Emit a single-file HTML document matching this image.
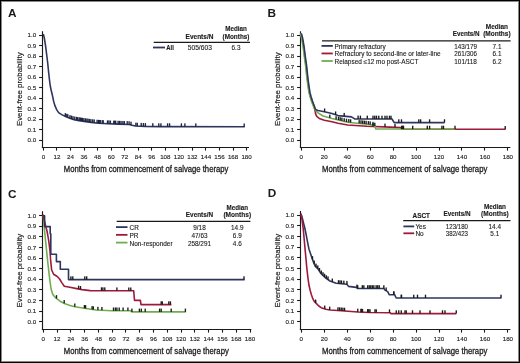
<!DOCTYPE html>
<html><head><meta charset="utf-8"><style>
html,body{margin:0;padding:0;background:#fff;}
svg{display:block;will-change:transform;font-family:"Liberation Sans",sans-serif;}
</style></head><body>
<svg width="520" height="363" viewBox="0 0 520 363">
<rect x="0" y="0" width="520" height="363" fill="#fff"/>
<text x="8.10" y="16.90" font-size="11.8" font-weight="bold" textLength="8.52" lengthAdjust="spacingAndGlyphs" fill="#1a1a1a">A</text>
<line x1="42.50" y1="31.20" x2="42.50" y2="148.10" stroke="#1a1a1a" stroke-width="1.15"/>
<line x1="39.10" y1="35.50" x2="42.50" y2="35.50" stroke="#1a1a1a" stroke-width="1.1"/>
<text x="27.58" y="37.21" font-size="6.2" textLength="8.62" lengthAdjust="spacingAndGlyphs" fill="#1a1a1a" stroke="#1a1a1a" stroke-width="0.12">1.0</text>
<line x1="39.10" y1="45.50" x2="42.50" y2="45.50" stroke="#1a1a1a" stroke-width="1.1"/>
<text x="27.58" y="47.72" font-size="6.2" textLength="8.62" lengthAdjust="spacingAndGlyphs" fill="#1a1a1a" stroke="#1a1a1a" stroke-width="0.12">0.9</text>
<line x1="39.10" y1="56.50" x2="42.50" y2="56.50" stroke="#1a1a1a" stroke-width="1.1"/>
<text x="27.58" y="58.24" font-size="6.2" textLength="8.62" lengthAdjust="spacingAndGlyphs" fill="#1a1a1a" stroke="#1a1a1a" stroke-width="0.12">0.8</text>
<line x1="39.10" y1="66.50" x2="42.50" y2="66.50" stroke="#1a1a1a" stroke-width="1.1"/>
<text x="27.58" y="68.75" font-size="6.2" textLength="8.62" lengthAdjust="spacingAndGlyphs" fill="#1a1a1a" stroke="#1a1a1a" stroke-width="0.12">0.7</text>
<line x1="39.10" y1="77.50" x2="42.50" y2="77.50" stroke="#1a1a1a" stroke-width="1.1"/>
<text x="27.58" y="79.27" font-size="6.2" textLength="8.62" lengthAdjust="spacingAndGlyphs" fill="#1a1a1a" stroke="#1a1a1a" stroke-width="0.12">0.6</text>
<line x1="39.10" y1="87.50" x2="42.50" y2="87.50" stroke="#1a1a1a" stroke-width="1.1"/>
<text x="27.58" y="89.78" font-size="6.2" textLength="8.62" lengthAdjust="spacingAndGlyphs" fill="#1a1a1a" stroke="#1a1a1a" stroke-width="0.12">0.5</text>
<line x1="39.10" y1="98.50" x2="42.50" y2="98.50" stroke="#1a1a1a" stroke-width="1.1"/>
<text x="27.58" y="100.29" font-size="6.2" textLength="8.62" lengthAdjust="spacingAndGlyphs" fill="#1a1a1a" stroke="#1a1a1a" stroke-width="0.12">0.4</text>
<line x1="39.10" y1="108.50" x2="42.50" y2="108.50" stroke="#1a1a1a" stroke-width="1.1"/>
<text x="27.58" y="110.81" font-size="6.2" textLength="8.62" lengthAdjust="spacingAndGlyphs" fill="#1a1a1a" stroke="#1a1a1a" stroke-width="0.12">0.3</text>
<line x1="39.10" y1="119.50" x2="42.50" y2="119.50" stroke="#1a1a1a" stroke-width="1.1"/>
<text x="27.58" y="121.32" font-size="6.2" textLength="8.62" lengthAdjust="spacingAndGlyphs" fill="#1a1a1a" stroke="#1a1a1a" stroke-width="0.12">0.2</text>
<line x1="39.10" y1="129.50" x2="42.50" y2="129.50" stroke="#1a1a1a" stroke-width="1.1"/>
<text x="27.58" y="131.84" font-size="6.2" textLength="8.62" lengthAdjust="spacingAndGlyphs" fill="#1a1a1a" stroke="#1a1a1a" stroke-width="0.12">0.1</text>
<line x1="39.10" y1="140.50" x2="42.50" y2="140.50" stroke="#1a1a1a" stroke-width="1.1"/>
<text x="27.58" y="142.35" font-size="6.2" textLength="8.62" lengthAdjust="spacingAndGlyphs" fill="#1a1a1a" stroke="#1a1a1a" stroke-width="0.12">0.0</text>
<line x1="41.90" y1="147.50" x2="249.00" y2="147.50" stroke="#1a1a1a" stroke-width="1.2"/>
<line x1="43.50" y1="147.50" x2="43.50" y2="150.60" stroke="#1a1a1a" stroke-width="1.1"/>
<text x="41.68" y="159.40" font-size="6.2" textLength="3.45" lengthAdjust="spacingAndGlyphs" fill="#1a1a1a" stroke="#1a1a1a" stroke-width="0.12">0</text>
<line x1="56.50" y1="147.50" x2="56.50" y2="150.60" stroke="#1a1a1a" stroke-width="1.1"/>
<text x="53.50" y="159.40" font-size="6.2" textLength="6.90" lengthAdjust="spacingAndGlyphs" fill="#1a1a1a" stroke="#1a1a1a" stroke-width="0.12">12</text>
<line x1="70.50" y1="147.50" x2="70.50" y2="150.60" stroke="#1a1a1a" stroke-width="1.1"/>
<text x="67.05" y="159.40" font-size="6.2" textLength="6.90" lengthAdjust="spacingAndGlyphs" fill="#1a1a1a" stroke="#1a1a1a" stroke-width="0.12">24</text>
<line x1="84.50" y1="147.50" x2="84.50" y2="150.60" stroke="#1a1a1a" stroke-width="1.1"/>
<text x="80.59" y="159.40" font-size="6.2" textLength="6.90" lengthAdjust="spacingAndGlyphs" fill="#1a1a1a" stroke="#1a1a1a" stroke-width="0.12">36</text>
<line x1="97.50" y1="147.50" x2="97.50" y2="150.60" stroke="#1a1a1a" stroke-width="1.1"/>
<text x="94.14" y="159.40" font-size="6.2" textLength="6.90" lengthAdjust="spacingAndGlyphs" fill="#1a1a1a" stroke="#1a1a1a" stroke-width="0.12">48</text>
<line x1="111.50" y1="147.50" x2="111.50" y2="150.60" stroke="#1a1a1a" stroke-width="1.1"/>
<text x="107.69" y="159.40" font-size="6.2" textLength="6.90" lengthAdjust="spacingAndGlyphs" fill="#1a1a1a" stroke="#1a1a1a" stroke-width="0.12">60</text>
<line x1="124.50" y1="147.50" x2="124.50" y2="150.60" stroke="#1a1a1a" stroke-width="1.1"/>
<text x="121.23" y="159.40" font-size="6.2" textLength="6.90" lengthAdjust="spacingAndGlyphs" fill="#1a1a1a" stroke="#1a1a1a" stroke-width="0.12">72</text>
<line x1="138.50" y1="147.50" x2="138.50" y2="150.60" stroke="#1a1a1a" stroke-width="1.1"/>
<text x="134.78" y="159.40" font-size="6.2" textLength="6.90" lengthAdjust="spacingAndGlyphs" fill="#1a1a1a" stroke="#1a1a1a" stroke-width="0.12">84</text>
<line x1="151.50" y1="147.50" x2="151.50" y2="150.60" stroke="#1a1a1a" stroke-width="1.1"/>
<text x="148.33" y="159.40" font-size="6.2" textLength="6.90" lengthAdjust="spacingAndGlyphs" fill="#1a1a1a" stroke="#1a1a1a" stroke-width="0.12">96</text>
<line x1="165.50" y1="147.50" x2="165.50" y2="150.60" stroke="#1a1a1a" stroke-width="1.1"/>
<text x="160.15" y="159.40" font-size="6.2" textLength="10.34" lengthAdjust="spacingAndGlyphs" fill="#1a1a1a" stroke="#1a1a1a" stroke-width="0.12">108</text>
<line x1="178.50" y1="147.50" x2="178.50" y2="150.60" stroke="#1a1a1a" stroke-width="1.1"/>
<text x="173.69" y="159.40" font-size="6.2" textLength="10.34" lengthAdjust="spacingAndGlyphs" fill="#1a1a1a" stroke="#1a1a1a" stroke-width="0.12">120</text>
<line x1="192.50" y1="147.50" x2="192.50" y2="150.60" stroke="#1a1a1a" stroke-width="1.1"/>
<text x="187.24" y="159.40" font-size="6.2" textLength="10.34" lengthAdjust="spacingAndGlyphs" fill="#1a1a1a" stroke="#1a1a1a" stroke-width="0.12">132</text>
<line x1="205.50" y1="147.50" x2="205.50" y2="150.60" stroke="#1a1a1a" stroke-width="1.1"/>
<text x="200.79" y="159.40" font-size="6.2" textLength="10.34" lengthAdjust="spacingAndGlyphs" fill="#1a1a1a" stroke="#1a1a1a" stroke-width="0.12">144</text>
<line x1="219.50" y1="147.50" x2="219.50" y2="150.60" stroke="#1a1a1a" stroke-width="1.1"/>
<text x="214.33" y="159.40" font-size="6.2" textLength="10.34" lengthAdjust="spacingAndGlyphs" fill="#1a1a1a" stroke="#1a1a1a" stroke-width="0.12">156</text>
<line x1="233.50" y1="147.50" x2="233.50" y2="150.60" stroke="#1a1a1a" stroke-width="1.1"/>
<text x="227.88" y="159.40" font-size="6.2" textLength="10.34" lengthAdjust="spacingAndGlyphs" fill="#1a1a1a" stroke="#1a1a1a" stroke-width="0.12">168</text>
<line x1="246.50" y1="147.50" x2="246.50" y2="150.60" stroke="#1a1a1a" stroke-width="1.1"/>
<text x="241.43" y="159.40" font-size="6.2" textLength="10.34" lengthAdjust="spacingAndGlyphs" fill="#1a1a1a" stroke="#1a1a1a" stroke-width="0.12">180</text>
<text x="-15.20" y="89.20" font-size="8.0" textLength="73.60" lengthAdjust="spacingAndGlyphs" fill="#1a1a1a" stroke="#1a1a1a" stroke-width="0.18" transform="rotate(-90 21.60 89.20)">Event-free probability</text>
<text x="63.80" y="171.80" font-size="9.3" textLength="164.60" lengthAdjust="spacingAndGlyphs" fill="#1a1a1a" stroke="#1a1a1a" stroke-width="0.3">Months from commencement of salvage therapy</text>
<text x="225.20" y="31.00" font-size="6.4" font-weight="bold" textLength="21.60" lengthAdjust="spacingAndGlyphs" fill="#1a1a1a" stroke="#1a1a1a" stroke-width="0.12">Median</text>
<text x="222.55" y="38.80" font-size="6.4" font-weight="bold" textLength="26.90" lengthAdjust="spacingAndGlyphs" fill="#1a1a1a" stroke="#1a1a1a" stroke-width="0.12">(Months)</text>
<text x="185.55" y="38.80" font-size="6.4" font-weight="bold" textLength="27.90" lengthAdjust="spacingAndGlyphs" fill="#1a1a1a" stroke="#1a1a1a" stroke-width="0.12">Events/N</text>
<line x1="153.70" y1="42.30" x2="250.00" y2="42.30" stroke="#1a1a1a" stroke-width="1.2"/>
<line x1="153.00" y1="47.50" x2="165.00" y2="47.50" stroke="#2e365e" stroke-width="1.8"/>
<text x="166.30" y="49.50" font-size="6.4" font-weight="bold" textLength="7.50" lengthAdjust="spacingAndGlyphs" fill="#1a1a1a" stroke="#1a1a1a" stroke-width="0.12">All</text>
<text x="187.75" y="49.60" font-size="6.4" textLength="24.10" lengthAdjust="spacingAndGlyphs" fill="#1a1a1a" stroke="#1a1a1a" stroke-width="0.1">505/603</text>
<text x="231.55" y="49.60" font-size="6.4" textLength="8.90" lengthAdjust="spacingAndGlyphs" fill="#1a1a1a" stroke="#1a1a1a" stroke-width="0.1">6.3</text>
<polyline points="43.30,34.00 44.30,38.00 45.50,45.40 46.60,54.00 47.70,63.00 48.50,71.00 49.30,78.50 50.20,85.50 51.10,90.00 52.40,95.30 53.70,101.50 55.00,105.90 56.80,109.90 58.60,112.60 61.70,114.60 66.10,116.80 70.50,118.60 74.00,119.70 79.00,120.60 84.00,121.40 91.00,122.40 98.40,123.20 108.00,123.70 118.00,124.10 129.00,124.50 132.00,125.20 135.40,126.00 145.00,126.40 160.00,126.60 244.80,126.80" fill="none" stroke="#2e365e" stroke-width="1.6" stroke-linejoin="round"/>
<rect x="64.62" y="113.10" width="1.35" height="3.3" fill="#1e2340"/>
<rect x="66.12" y="113.79" width="1.35" height="3.3" fill="#1e2340"/>
<rect x="67.12" y="114.20" width="1.35" height="3.3" fill="#1e2340"/>
<rect x="69.33" y="115.10" width="1.35" height="3.3" fill="#1e2340"/>
<rect x="70.83" y="115.61" width="1.35" height="3.3" fill="#1e2340"/>
<rect x="72.33" y="116.09" width="1.35" height="3.3" fill="#1e2340"/>
<rect x="74.12" y="116.54" width="1.35" height="3.3" fill="#1e2340"/>
<rect x="75.92" y="116.87" width="1.35" height="3.3" fill="#1e2340"/>
<rect x="77.03" y="117.07" width="1.35" height="3.3" fill="#1e2340"/>
<rect x="78.53" y="117.33" width="1.35" height="3.3" fill="#1e2340"/>
<rect x="79.62" y="117.51" width="1.35" height="3.3" fill="#1e2340"/>
<rect x="80.73" y="117.68" width="1.35" height="3.3" fill="#1e2340"/>
<rect x="81.83" y="117.86" width="1.35" height="3.3" fill="#1e2340"/>
<rect x="83.23" y="118.08" width="1.35" height="3.3" fill="#1e2340"/>
<rect x="84.73" y="118.30" width="1.35" height="3.3" fill="#1e2340"/>
<rect x="86.23" y="118.51" width="1.35" height="3.3" fill="#1e2340"/>
<rect x="87.33" y="118.67" width="1.35" height="3.3" fill="#1e2340"/>
<rect x="88.73" y="118.87" width="1.35" height="3.3" fill="#1e2340"/>
<rect x="90.23" y="119.09" width="1.35" height="3.3" fill="#1e2340"/>
<rect x="92.03" y="119.28" width="1.35" height="3.3" fill="#1e2340"/>
<rect x="93.53" y="119.45" width="1.35" height="3.3" fill="#1e2340"/>
<rect x="96.42" y="119.76" width="1.35" height="3.3" fill="#1e2340"/>
<rect x="97.73" y="119.90" width="1.35" height="3.3" fill="#1e2340"/>
<rect x="98.62" y="119.95" width="1.35" height="3.3" fill="#1e2340"/>
<rect x="99.62" y="120.00" width="1.35" height="3.3" fill="#1e2340"/>
<rect x="101.53" y="120.10" width="1.35" height="3.3" fill="#1e2340"/>
<rect x="102.53" y="120.15" width="1.35" height="3.3" fill="#1e2340"/>
<rect x="106.83" y="120.37" width="1.35" height="3.3" fill="#1e2340"/>
<rect x="108.23" y="120.44" width="1.35" height="3.3" fill="#1e2340"/>
<rect x="109.73" y="120.50" width="1.35" height="3.3" fill="#1e2340"/>
<rect x="113.12" y="120.63" width="1.35" height="3.3" fill="#1e2340"/>
<rect x="114.03" y="120.67" width="1.35" height="3.3" fill="#1e2340"/>
<rect x="115.03" y="120.71" width="1.35" height="3.3" fill="#1e2340"/>
<rect x="117.42" y="120.80" width="1.35" height="3.3" fill="#1e2340"/>
<rect x="118.83" y="120.85" width="1.35" height="3.3" fill="#1e2340"/>
<rect x="120.33" y="120.91" width="1.35" height="3.3" fill="#1e2340"/>
<rect x="122.23" y="120.98" width="1.35" height="3.3" fill="#1e2340"/>
<rect x="123.62" y="121.03" width="1.35" height="3.3" fill="#1e2340"/>
<rect x="126.53" y="121.13" width="1.35" height="3.3" fill="#1e2340"/>
<rect x="128.42" y="121.22" width="1.35" height="3.3" fill="#1e2340"/>
<rect x="130.32" y="121.67" width="1.35" height="3.3" fill="#1e2340"/>
<rect x="135.22" y="122.72" width="1.35" height="3.3" fill="#1e2340"/>
<rect x="136.62" y="122.78" width="1.35" height="3.3" fill="#1e2340"/>
<rect x="140.52" y="122.94" width="1.35" height="3.3" fill="#1e2340"/>
<rect x="142.72" y="123.03" width="1.35" height="3.3" fill="#1e2340"/>
<rect x="144.72" y="123.11" width="1.35" height="3.3" fill="#1e2340"/>
<rect x="152.12" y="123.20" width="1.35" height="3.3" fill="#1e2340"/>
<rect x="158.12" y="123.28" width="1.35" height="3.3" fill="#1e2340"/>
<rect x="160.22" y="123.30" width="1.35" height="3.3" fill="#1e2340"/>
<rect x="166.92" y="123.32" width="1.35" height="3.3" fill="#1e2340"/>
<rect x="168.92" y="123.32" width="1.35" height="3.3" fill="#1e2340"/>
<rect x="180.72" y="123.35" width="1.35" height="3.3" fill="#1e2340"/>
<rect x="184.22" y="123.36" width="1.35" height="3.3" fill="#1e2340"/>
<rect x="195.12" y="123.38" width="1.35" height="3.3" fill="#1e2340"/>
<rect x="243.52" y="123.50" width="1.35" height="3.3" fill="#1e2340"/>
<text x="267.60" y="16.80" font-size="11.8" font-weight="bold" textLength="8.52" lengthAdjust="spacingAndGlyphs" fill="#1a1a1a">B</text>
<line x1="300.50" y1="31.30" x2="300.50" y2="148.10" stroke="#1a1a1a" stroke-width="1.15"/>
<line x1="297.10" y1="35.50" x2="300.50" y2="35.50" stroke="#1a1a1a" stroke-width="1.1"/>
<text x="285.58" y="37.15" font-size="6.2" textLength="8.62" lengthAdjust="spacingAndGlyphs" fill="#1a1a1a" stroke="#1a1a1a" stroke-width="0.12">1.0</text>
<line x1="297.10" y1="45.50" x2="300.50" y2="45.50" stroke="#1a1a1a" stroke-width="1.1"/>
<text x="285.58" y="47.68" font-size="6.2" textLength="8.62" lengthAdjust="spacingAndGlyphs" fill="#1a1a1a" stroke="#1a1a1a" stroke-width="0.12">0.9</text>
<line x1="297.10" y1="56.50" x2="300.50" y2="56.50" stroke="#1a1a1a" stroke-width="1.1"/>
<text x="285.58" y="58.21" font-size="6.2" textLength="8.62" lengthAdjust="spacingAndGlyphs" fill="#1a1a1a" stroke="#1a1a1a" stroke-width="0.12">0.8</text>
<line x1="297.10" y1="66.50" x2="300.50" y2="66.50" stroke="#1a1a1a" stroke-width="1.1"/>
<text x="285.58" y="68.74" font-size="6.2" textLength="8.62" lengthAdjust="spacingAndGlyphs" fill="#1a1a1a" stroke="#1a1a1a" stroke-width="0.12">0.7</text>
<line x1="297.10" y1="77.50" x2="300.50" y2="77.50" stroke="#1a1a1a" stroke-width="1.1"/>
<text x="285.58" y="79.27" font-size="6.2" textLength="8.62" lengthAdjust="spacingAndGlyphs" fill="#1a1a1a" stroke="#1a1a1a" stroke-width="0.12">0.6</text>
<line x1="297.10" y1="87.50" x2="300.50" y2="87.50" stroke="#1a1a1a" stroke-width="1.1"/>
<text x="285.58" y="89.80" font-size="6.2" textLength="8.62" lengthAdjust="spacingAndGlyphs" fill="#1a1a1a" stroke="#1a1a1a" stroke-width="0.12">0.5</text>
<line x1="297.10" y1="98.50" x2="300.50" y2="98.50" stroke="#1a1a1a" stroke-width="1.1"/>
<text x="285.58" y="100.33" font-size="6.2" textLength="8.62" lengthAdjust="spacingAndGlyphs" fill="#1a1a1a" stroke="#1a1a1a" stroke-width="0.12">0.4</text>
<line x1="297.10" y1="108.50" x2="300.50" y2="108.50" stroke="#1a1a1a" stroke-width="1.1"/>
<text x="285.58" y="110.86" font-size="6.2" textLength="8.62" lengthAdjust="spacingAndGlyphs" fill="#1a1a1a" stroke="#1a1a1a" stroke-width="0.12">0.3</text>
<line x1="297.10" y1="119.50" x2="300.50" y2="119.50" stroke="#1a1a1a" stroke-width="1.1"/>
<text x="285.58" y="121.39" font-size="6.2" textLength="8.62" lengthAdjust="spacingAndGlyphs" fill="#1a1a1a" stroke="#1a1a1a" stroke-width="0.12">0.2</text>
<line x1="297.10" y1="129.50" x2="300.50" y2="129.50" stroke="#1a1a1a" stroke-width="1.1"/>
<text x="285.58" y="131.92" font-size="6.2" textLength="8.62" lengthAdjust="spacingAndGlyphs" fill="#1a1a1a" stroke="#1a1a1a" stroke-width="0.12">0.1</text>
<line x1="297.10" y1="140.50" x2="300.50" y2="140.50" stroke="#1a1a1a" stroke-width="1.1"/>
<text x="285.58" y="142.45" font-size="6.2" textLength="8.62" lengthAdjust="spacingAndGlyphs" fill="#1a1a1a" stroke="#1a1a1a" stroke-width="0.12">0.0</text>
<line x1="299.90" y1="147.50" x2="510.40" y2="147.50" stroke="#1a1a1a" stroke-width="1.2"/>
<line x1="301.50" y1="147.50" x2="301.50" y2="150.60" stroke="#1a1a1a" stroke-width="1.1"/>
<text x="299.58" y="159.40" font-size="6.2" textLength="3.45" lengthAdjust="spacingAndGlyphs" fill="#1a1a1a" stroke="#1a1a1a" stroke-width="0.12">0</text>
<line x1="324.50" y1="147.50" x2="324.50" y2="150.60" stroke="#1a1a1a" stroke-width="1.1"/>
<text x="320.81" y="159.40" font-size="6.2" textLength="6.90" lengthAdjust="spacingAndGlyphs" fill="#1a1a1a" stroke="#1a1a1a" stroke-width="0.12">20</text>
<line x1="347.50" y1="147.50" x2="347.50" y2="150.60" stroke="#1a1a1a" stroke-width="1.1"/>
<text x="343.76" y="159.40" font-size="6.2" textLength="6.90" lengthAdjust="spacingAndGlyphs" fill="#1a1a1a" stroke="#1a1a1a" stroke-width="0.12">40</text>
<line x1="370.50" y1="147.50" x2="370.50" y2="150.60" stroke="#1a1a1a" stroke-width="1.1"/>
<text x="366.72" y="159.40" font-size="6.2" textLength="6.90" lengthAdjust="spacingAndGlyphs" fill="#1a1a1a" stroke="#1a1a1a" stroke-width="0.12">60</text>
<line x1="393.50" y1="147.50" x2="393.50" y2="150.60" stroke="#1a1a1a" stroke-width="1.1"/>
<text x="389.67" y="159.40" font-size="6.2" textLength="6.90" lengthAdjust="spacingAndGlyphs" fill="#1a1a1a" stroke="#1a1a1a" stroke-width="0.12">80</text>
<line x1="416.50" y1="147.50" x2="416.50" y2="150.60" stroke="#1a1a1a" stroke-width="1.1"/>
<text x="410.91" y="159.40" font-size="6.2" textLength="10.34" lengthAdjust="spacingAndGlyphs" fill="#1a1a1a" stroke="#1a1a1a" stroke-width="0.12">100</text>
<line x1="439.50" y1="147.50" x2="439.50" y2="150.60" stroke="#1a1a1a" stroke-width="1.1"/>
<text x="433.86" y="159.40" font-size="6.2" textLength="10.34" lengthAdjust="spacingAndGlyphs" fill="#1a1a1a" stroke="#1a1a1a" stroke-width="0.12">120</text>
<line x1="461.50" y1="147.50" x2="461.50" y2="150.60" stroke="#1a1a1a" stroke-width="1.1"/>
<text x="456.82" y="159.40" font-size="6.2" textLength="10.34" lengthAdjust="spacingAndGlyphs" fill="#1a1a1a" stroke="#1a1a1a" stroke-width="0.12">140</text>
<line x1="484.50" y1="147.50" x2="484.50" y2="150.60" stroke="#1a1a1a" stroke-width="1.1"/>
<text x="479.77" y="159.40" font-size="6.2" textLength="10.34" lengthAdjust="spacingAndGlyphs" fill="#1a1a1a" stroke="#1a1a1a" stroke-width="0.12">160</text>
<line x1="507.50" y1="147.50" x2="507.50" y2="150.60" stroke="#1a1a1a" stroke-width="1.1"/>
<text x="502.73" y="159.40" font-size="6.2" textLength="10.34" lengthAdjust="spacingAndGlyphs" fill="#1a1a1a" stroke="#1a1a1a" stroke-width="0.12">180</text>
<text x="242.80" y="89.20" font-size="8.0" textLength="73.60" lengthAdjust="spacingAndGlyphs" fill="#1a1a1a" stroke="#1a1a1a" stroke-width="0.18" transform="rotate(-90 279.60 89.20)">Event-free probability</text>
<text x="322.00" y="172.00" font-size="9.3" textLength="165.30" lengthAdjust="spacingAndGlyphs" fill="#1a1a1a" stroke="#1a1a1a" stroke-width="0.3">Months from commencement of salvage therapy</text>
<text x="485.80" y="28.70" font-size="6.4" font-weight="bold" textLength="22.20" lengthAdjust="spacingAndGlyphs" fill="#1a1a1a" stroke="#1a1a1a" stroke-width="0.12">Median</text>
<text x="483.15" y="36.30" font-size="6.4" font-weight="bold" textLength="27.50" lengthAdjust="spacingAndGlyphs" fill="#1a1a1a" stroke="#1a1a1a" stroke-width="0.12">(Months)</text>
<text x="452.75" y="36.30" font-size="6.4" font-weight="bold" textLength="26.90" lengthAdjust="spacingAndGlyphs" fill="#1a1a1a" stroke="#1a1a1a" stroke-width="0.12">Events/N</text>
<line x1="322.00" y1="40.90" x2="510.60" y2="40.90" stroke="#1a1a1a" stroke-width="1.2"/>
<line x1="321.50" y1="45.90" x2="332.80" y2="45.90" stroke="#2e365e" stroke-width="1.8"/>
<text x="334.60" y="48.80" font-size="6.45" textLength="51.00" lengthAdjust="spacingAndGlyphs" fill="#1a1a1a" stroke="#1a1a1a" stroke-width="0.12">Primary refractory</text>
<text x="454.25" y="48.80" font-size="6.4" textLength="22.70" lengthAdjust="spacingAndGlyphs" fill="#1a1a1a" stroke="#1a1a1a" stroke-width="0.1">143/179</text>
<text x="492.55" y="48.80" font-size="6.4" textLength="8.90" lengthAdjust="spacingAndGlyphs" fill="#1a1a1a" stroke="#1a1a1a" stroke-width="0.1">7.1</text>
<line x1="321.50" y1="53.45" x2="332.80" y2="53.45" stroke="#9e1a3c" stroke-width="1.8"/>
<text x="334.60" y="56.35" font-size="6.45" textLength="106.10" lengthAdjust="spacingAndGlyphs" fill="#1a1a1a" stroke="#1a1a1a" stroke-width="0.12">Refractory to second-line or later-line</text>
<text x="454.25" y="56.35" font-size="6.4" textLength="22.70" lengthAdjust="spacingAndGlyphs" fill="#1a1a1a" stroke="#1a1a1a" stroke-width="0.1">261/306</text>
<text x="492.55" y="56.35" font-size="6.4" textLength="8.90" lengthAdjust="spacingAndGlyphs" fill="#1a1a1a" stroke="#1a1a1a" stroke-width="0.1">6.1</text>
<line x1="321.50" y1="61.00" x2="332.80" y2="61.00" stroke="#70ad52" stroke-width="1.8"/>
<text x="334.60" y="63.90" font-size="6.45" textLength="83.80" lengthAdjust="spacingAndGlyphs" fill="#1a1a1a" stroke="#1a1a1a" stroke-width="0.12">Relapsed ≤12 mo post-ASCT</text>
<text x="454.25" y="63.90" font-size="6.4" textLength="22.70" lengthAdjust="spacingAndGlyphs" fill="#1a1a1a" stroke="#1a1a1a" stroke-width="0.1">101/118</text>
<text x="492.55" y="63.90" font-size="6.4" textLength="8.90" lengthAdjust="spacingAndGlyphs" fill="#1a1a1a" stroke="#1a1a1a" stroke-width="0.1">6.2</text>
<polyline points="300.80,33.50 302.10,38.30 303.50,46.50 304.90,57.50 306.10,66.00 307.00,75.00 307.60,80.00 308.50,86.50 309.40,92.40 310.60,97.00 311.90,101.00 313.00,104.00 313.80,106.00 314.60,108.50 315.20,111.50 315.80,114.50 317.00,116.60 319.30,118.40 324.30,120.30 332.00,121.80 338.00,123.20 347.70,125.00 367.00,126.20 390.00,127.10 400.40,127.60 402.00,129.30 505.50,129.30" fill="none" stroke="#9e1a3c" stroke-width="1.6" stroke-linejoin="round"/>
<polyline points="300.35,33.50 301.65,38.30 303.05,46.50 304.45,57.50 305.65,66.00 306.55,75.00 307.15,80.00 308.05,86.50 308.95,92.40 310.15,97.00 311.45,101.00 312.55,104.00 313.35,106.00 314.50,108.70 316.00,110.80 318.10,112.80 323.00,116.00 332.00,118.50 347.70,122.30 367.00,124.20 374.60,125.40 375.80,129.00 455.20,129.00" fill="none" stroke="#70ad52" stroke-width="1.6" stroke-linejoin="round"/>
<polyline points="301.35,33.50 302.65,38.30 304.05,46.50 305.45,57.50 306.65,66.00 307.55,75.00 308.15,80.00 309.05,86.50 309.95,92.40 311.15,97.00 312.45,101.00 313.55,104.00 314.35,106.00 315.30,109.00 316.50,110.00 318.10,110.50 324.30,111.70 332.00,113.50 338.00,115.60 351.50,116.90 354.60,118.90 392.00,119.00 394.20,122.60 444.50,122.60" fill="none" stroke="#2e365e" stroke-width="1.6" stroke-linejoin="round"/>
<rect x="323.93" y="108.47" width="1.35" height="3.3" fill="#1a1a1a"/>
<rect x="334.93" y="111.46" width="1.35" height="3.3" fill="#1a1a1a"/>
<rect x="343.52" y="112.90" width="1.35" height="3.3" fill="#1a1a1a"/>
<rect x="357.43" y="115.61" width="1.35" height="3.3" fill="#1a1a1a"/>
<rect x="359.72" y="115.62" width="1.35" height="3.3" fill="#1a1a1a"/>
<rect x="366.62" y="115.63" width="1.35" height="3.3" fill="#1a1a1a"/>
<rect x="372.32" y="115.65" width="1.35" height="3.3" fill="#1a1a1a"/>
<rect x="374.12" y="115.65" width="1.35" height="3.3" fill="#1a1a1a"/>
<rect x="375.82" y="115.66" width="1.35" height="3.3" fill="#1a1a1a"/>
<rect x="378.12" y="115.66" width="1.35" height="3.3" fill="#1a1a1a"/>
<rect x="381.32" y="115.67" width="1.35" height="3.3" fill="#1a1a1a"/>
<rect x="384.32" y="115.68" width="1.35" height="3.3" fill="#1a1a1a"/>
<rect x="386.32" y="115.69" width="1.35" height="3.3" fill="#1a1a1a"/>
<rect x="388.82" y="115.69" width="1.35" height="3.3" fill="#1a1a1a"/>
<rect x="390.32" y="115.70" width="1.35" height="3.3" fill="#1a1a1a"/>
<rect x="398.12" y="119.30" width="1.35" height="3.3" fill="#1a1a1a"/>
<rect x="400.82" y="119.30" width="1.35" height="3.3" fill="#1a1a1a"/>
<rect x="418.12" y="119.30" width="1.35" height="3.3" fill="#1a1a1a"/>
<rect x="419.93" y="119.30" width="1.35" height="3.3" fill="#1a1a1a"/>
<rect x="428.93" y="119.30" width="1.35" height="3.3" fill="#1a1a1a"/>
<rect x="443.82" y="119.30" width="1.35" height="3.3" fill="#1a1a1a"/>
<rect x="329.12" y="114.59" width="1.35" height="3.3" fill="#1a1a1a"/>
<rect x="335.43" y="116.19" width="1.35" height="3.3" fill="#1a1a1a"/>
<rect x="337.82" y="116.77" width="1.35" height="3.3" fill="#1a1a1a"/>
<rect x="339.52" y="117.18" width="1.35" height="3.3" fill="#1a1a1a"/>
<rect x="341.22" y="117.60" width="1.35" height="3.3" fill="#1a1a1a"/>
<rect x="343.52" y="118.15" width="1.35" height="3.3" fill="#1a1a1a"/>
<rect x="345.82" y="118.71" width="1.35" height="3.3" fill="#1a1a1a"/>
<rect x="348.12" y="119.11" width="1.35" height="3.3" fill="#1a1a1a"/>
<rect x="349.93" y="119.29" width="1.35" height="3.3" fill="#1a1a1a"/>
<rect x="358.52" y="120.13" width="1.35" height="3.3" fill="#1a1a1a"/>
<rect x="360.32" y="120.31" width="1.35" height="3.3" fill="#1a1a1a"/>
<rect x="362.02" y="120.48" width="1.35" height="3.3" fill="#1a1a1a"/>
<rect x="363.72" y="120.64" width="1.35" height="3.3" fill="#1a1a1a"/>
<rect x="365.43" y="120.81" width="1.35" height="3.3" fill="#1a1a1a"/>
<rect x="367.72" y="121.12" width="1.35" height="3.3" fill="#1a1a1a"/>
<rect x="369.52" y="121.41" width="1.35" height="3.3" fill="#1a1a1a"/>
<rect x="372.32" y="121.85" width="1.35" height="3.3" fill="#1a1a1a"/>
<rect x="374.12" y="122.70" width="1.35" height="3.3" fill="#1a1a1a"/>
<rect x="400.93" y="125.70" width="1.35" height="3.3" fill="#1a1a1a"/>
<rect x="402.02" y="125.70" width="1.35" height="3.3" fill="#1a1a1a"/>
<rect x="402.82" y="125.70" width="1.35" height="3.3" fill="#1a1a1a"/>
<rect x="412.02" y="125.70" width="1.35" height="3.3" fill="#1a1a1a"/>
<rect x="426.62" y="125.70" width="1.35" height="3.3" fill="#1a1a1a"/>
<rect x="428.93" y="125.70" width="1.35" height="3.3" fill="#1a1a1a"/>
<rect x="441.22" y="125.70" width="1.35" height="3.3" fill="#1a1a1a"/>
<rect x="442.82" y="125.70" width="1.35" height="3.3" fill="#1a1a1a"/>
<rect x="454.32" y="125.70" width="1.35" height="3.3" fill="#1a1a1a"/>
<rect x="372.32" y="123.13" width="1.35" height="3.3" fill="#1a1a1a"/>
<rect x="384.32" y="123.60" width="1.35" height="3.3" fill="#1a1a1a"/>
<rect x="394.32" y="124.04" width="1.35" height="3.3" fill="#1a1a1a"/>
<rect x="504.52" y="126.00" width="1.35" height="3.3" fill="#1a1a1a"/>
<text x="8.10" y="198.10" font-size="11.8" font-weight="bold" textLength="8.52" lengthAdjust="spacingAndGlyphs" fill="#1a1a1a">C</text>
<line x1="42.50" y1="211.20" x2="42.50" y2="330.10" stroke="#1a1a1a" stroke-width="1.15"/>
<line x1="39.10" y1="215.50" x2="42.50" y2="215.50" stroke="#1a1a1a" stroke-width="1.1"/>
<text x="27.58" y="217.75" font-size="6.2" textLength="8.62" lengthAdjust="spacingAndGlyphs" fill="#1a1a1a" stroke="#1a1a1a" stroke-width="0.12">1.0</text>
<line x1="39.10" y1="226.50" x2="42.50" y2="226.50" stroke="#1a1a1a" stroke-width="1.1"/>
<text x="27.58" y="228.37" font-size="6.2" textLength="8.62" lengthAdjust="spacingAndGlyphs" fill="#1a1a1a" stroke="#1a1a1a" stroke-width="0.12">0.9</text>
<line x1="39.10" y1="236.50" x2="42.50" y2="236.50" stroke="#1a1a1a" stroke-width="1.1"/>
<text x="27.58" y="238.99" font-size="6.2" textLength="8.62" lengthAdjust="spacingAndGlyphs" fill="#1a1a1a" stroke="#1a1a1a" stroke-width="0.12">0.8</text>
<line x1="39.10" y1="247.50" x2="42.50" y2="247.50" stroke="#1a1a1a" stroke-width="1.1"/>
<text x="27.58" y="249.61" font-size="6.2" textLength="8.62" lengthAdjust="spacingAndGlyphs" fill="#1a1a1a" stroke="#1a1a1a" stroke-width="0.12">0.7</text>
<line x1="39.10" y1="258.50" x2="42.50" y2="258.50" stroke="#1a1a1a" stroke-width="1.1"/>
<text x="27.58" y="260.23" font-size="6.2" textLength="8.62" lengthAdjust="spacingAndGlyphs" fill="#1a1a1a" stroke="#1a1a1a" stroke-width="0.12">0.6</text>
<line x1="39.10" y1="268.50" x2="42.50" y2="268.50" stroke="#1a1a1a" stroke-width="1.1"/>
<text x="27.58" y="270.85" font-size="6.2" textLength="8.62" lengthAdjust="spacingAndGlyphs" fill="#1a1a1a" stroke="#1a1a1a" stroke-width="0.12">0.5</text>
<line x1="39.10" y1="279.50" x2="42.50" y2="279.50" stroke="#1a1a1a" stroke-width="1.1"/>
<text x="27.58" y="281.47" font-size="6.2" textLength="8.62" lengthAdjust="spacingAndGlyphs" fill="#1a1a1a" stroke="#1a1a1a" stroke-width="0.12">0.4</text>
<line x1="39.10" y1="289.50" x2="42.50" y2="289.50" stroke="#1a1a1a" stroke-width="1.1"/>
<text x="27.58" y="292.09" font-size="6.2" textLength="8.62" lengthAdjust="spacingAndGlyphs" fill="#1a1a1a" stroke="#1a1a1a" stroke-width="0.12">0.3</text>
<line x1="39.10" y1="300.50" x2="42.50" y2="300.50" stroke="#1a1a1a" stroke-width="1.1"/>
<text x="27.58" y="302.71" font-size="6.2" textLength="8.62" lengthAdjust="spacingAndGlyphs" fill="#1a1a1a" stroke="#1a1a1a" stroke-width="0.12">0.2</text>
<line x1="39.10" y1="311.50" x2="42.50" y2="311.50" stroke="#1a1a1a" stroke-width="1.1"/>
<text x="27.58" y="313.33" font-size="6.2" textLength="8.62" lengthAdjust="spacingAndGlyphs" fill="#1a1a1a" stroke="#1a1a1a" stroke-width="0.12">0.1</text>
<line x1="39.10" y1="321.50" x2="42.50" y2="321.50" stroke="#1a1a1a" stroke-width="1.1"/>
<text x="27.58" y="323.95" font-size="6.2" textLength="8.62" lengthAdjust="spacingAndGlyphs" fill="#1a1a1a" stroke="#1a1a1a" stroke-width="0.12">0.0</text>
<line x1="41.90" y1="329.50" x2="251.30" y2="329.50" stroke="#1a1a1a" stroke-width="1.2"/>
<line x1="43.50" y1="329.50" x2="43.50" y2="332.60" stroke="#1a1a1a" stroke-width="1.1"/>
<text x="41.58" y="341.40" font-size="6.2" textLength="3.45" lengthAdjust="spacingAndGlyphs" fill="#1a1a1a" stroke="#1a1a1a" stroke-width="0.12">0</text>
<line x1="57.50" y1="329.50" x2="57.50" y2="332.60" stroke="#1a1a1a" stroke-width="1.1"/>
<text x="53.63" y="341.40" font-size="6.2" textLength="6.90" lengthAdjust="spacingAndGlyphs" fill="#1a1a1a" stroke="#1a1a1a" stroke-width="0.12">12</text>
<line x1="70.50" y1="329.50" x2="70.50" y2="332.60" stroke="#1a1a1a" stroke-width="1.1"/>
<text x="67.41" y="341.40" font-size="6.2" textLength="6.90" lengthAdjust="spacingAndGlyphs" fill="#1a1a1a" stroke="#1a1a1a" stroke-width="0.12">24</text>
<line x1="84.50" y1="329.50" x2="84.50" y2="332.60" stroke="#1a1a1a" stroke-width="1.1"/>
<text x="81.19" y="341.40" font-size="6.2" textLength="6.90" lengthAdjust="spacingAndGlyphs" fill="#1a1a1a" stroke="#1a1a1a" stroke-width="0.12">36</text>
<line x1="98.50" y1="329.50" x2="98.50" y2="332.60" stroke="#1a1a1a" stroke-width="1.1"/>
<text x="94.97" y="341.40" font-size="6.2" textLength="6.90" lengthAdjust="spacingAndGlyphs" fill="#1a1a1a" stroke="#1a1a1a" stroke-width="0.12">48</text>
<line x1="112.50" y1="329.50" x2="112.50" y2="332.60" stroke="#1a1a1a" stroke-width="1.1"/>
<text x="108.75" y="341.40" font-size="6.2" textLength="6.90" lengthAdjust="spacingAndGlyphs" fill="#1a1a1a" stroke="#1a1a1a" stroke-width="0.12">60</text>
<line x1="125.50" y1="329.50" x2="125.50" y2="332.60" stroke="#1a1a1a" stroke-width="1.1"/>
<text x="122.53" y="341.40" font-size="6.2" textLength="6.90" lengthAdjust="spacingAndGlyphs" fill="#1a1a1a" stroke="#1a1a1a" stroke-width="0.12">72</text>
<line x1="139.50" y1="329.50" x2="139.50" y2="332.60" stroke="#1a1a1a" stroke-width="1.1"/>
<text x="136.31" y="341.40" font-size="6.2" textLength="6.90" lengthAdjust="spacingAndGlyphs" fill="#1a1a1a" stroke="#1a1a1a" stroke-width="0.12">84</text>
<line x1="153.50" y1="329.50" x2="153.50" y2="332.60" stroke="#1a1a1a" stroke-width="1.1"/>
<text x="150.09" y="341.40" font-size="6.2" textLength="6.90" lengthAdjust="spacingAndGlyphs" fill="#1a1a1a" stroke="#1a1a1a" stroke-width="0.12">96</text>
<line x1="167.50" y1="329.50" x2="167.50" y2="332.60" stroke="#1a1a1a" stroke-width="1.1"/>
<text x="162.15" y="341.40" font-size="6.2" textLength="10.34" lengthAdjust="spacingAndGlyphs" fill="#1a1a1a" stroke="#1a1a1a" stroke-width="0.12">108</text>
<line x1="181.50" y1="329.50" x2="181.50" y2="332.60" stroke="#1a1a1a" stroke-width="1.1"/>
<text x="175.93" y="341.40" font-size="6.2" textLength="10.34" lengthAdjust="spacingAndGlyphs" fill="#1a1a1a" stroke="#1a1a1a" stroke-width="0.12">120</text>
<line x1="194.50" y1="329.50" x2="194.50" y2="332.60" stroke="#1a1a1a" stroke-width="1.1"/>
<text x="189.71" y="341.40" font-size="6.2" textLength="10.34" lengthAdjust="spacingAndGlyphs" fill="#1a1a1a" stroke="#1a1a1a" stroke-width="0.12">132</text>
<line x1="208.50" y1="329.50" x2="208.50" y2="332.60" stroke="#1a1a1a" stroke-width="1.1"/>
<text x="203.49" y="341.40" font-size="6.2" textLength="10.34" lengthAdjust="spacingAndGlyphs" fill="#1a1a1a" stroke="#1a1a1a" stroke-width="0.12">144</text>
<line x1="222.50" y1="329.50" x2="222.50" y2="332.60" stroke="#1a1a1a" stroke-width="1.1"/>
<text x="217.27" y="341.40" font-size="6.2" textLength="10.34" lengthAdjust="spacingAndGlyphs" fill="#1a1a1a" stroke="#1a1a1a" stroke-width="0.12">156</text>
<line x1="236.50" y1="329.50" x2="236.50" y2="332.60" stroke="#1a1a1a" stroke-width="1.1"/>
<text x="231.05" y="341.40" font-size="6.2" textLength="10.34" lengthAdjust="spacingAndGlyphs" fill="#1a1a1a" stroke="#1a1a1a" stroke-width="0.12">168</text>
<line x1="250.50" y1="329.50" x2="250.50" y2="332.60" stroke="#1a1a1a" stroke-width="1.1"/>
<text x="244.83" y="341.40" font-size="6.2" textLength="10.34" lengthAdjust="spacingAndGlyphs" fill="#1a1a1a" stroke="#1a1a1a" stroke-width="0.12">180</text>
<text x="-15.20" y="270.60" font-size="8.0" textLength="73.60" lengthAdjust="spacingAndGlyphs" fill="#1a1a1a" stroke="#1a1a1a" stroke-width="0.18" transform="rotate(-90 21.60 270.60)">Event-free probability</text>
<text x="63.80" y="353.70" font-size="9.3" textLength="165.00" lengthAdjust="spacingAndGlyphs" fill="#1a1a1a" stroke="#1a1a1a" stroke-width="0.3">Months from commencement of salvage therapy</text>
<text x="226.55" y="210.00" font-size="6.4" font-weight="bold" textLength="21.50" lengthAdjust="spacingAndGlyphs" fill="#1a1a1a" stroke="#1a1a1a" stroke-width="0.12">Median</text>
<text x="223.45" y="217.30" font-size="6.4" font-weight="bold" textLength="27.70" lengthAdjust="spacingAndGlyphs" fill="#1a1a1a" stroke="#1a1a1a" stroke-width="0.12">(Months)</text>
<text x="185.80" y="217.30" font-size="6.4" font-weight="bold" textLength="27.40" lengthAdjust="spacingAndGlyphs" fill="#1a1a1a" stroke="#1a1a1a" stroke-width="0.12">Events/N</text>
<line x1="116.70" y1="221.40" x2="250.40" y2="221.40" stroke="#1a1a1a" stroke-width="1.2"/>
<line x1="116.00" y1="227.10" x2="127.50" y2="227.10" stroke="#2e365e" stroke-width="1.8"/>
<text x="129.50" y="230.00" font-size="6.45" textLength="9.32" lengthAdjust="spacingAndGlyphs" fill="#1a1a1a" stroke="#1a1a1a" stroke-width="0.12">CR</text>
<text x="193.27" y="230.00" font-size="6.4" textLength="12.46" lengthAdjust="spacingAndGlyphs" fill="#1a1a1a" stroke="#1a1a1a" stroke-width="0.1">9/18</text>
<text x="231.07" y="230.00" font-size="6.4" textLength="12.46" lengthAdjust="spacingAndGlyphs" fill="#1a1a1a" stroke="#1a1a1a" stroke-width="0.1">14.9</text>
<line x1="116.00" y1="234.85" x2="127.50" y2="234.85" stroke="#9e1a3c" stroke-width="1.8"/>
<text x="129.50" y="237.75" font-size="6.45" textLength="8.96" lengthAdjust="spacingAndGlyphs" fill="#1a1a1a" stroke="#1a1a1a" stroke-width="0.12">PR</text>
<text x="191.49" y="237.75" font-size="6.4" textLength="16.02" lengthAdjust="spacingAndGlyphs" fill="#1a1a1a" stroke="#1a1a1a" stroke-width="0.1">47/63</text>
<text x="232.85" y="237.75" font-size="6.4" textLength="8.90" lengthAdjust="spacingAndGlyphs" fill="#1a1a1a" stroke="#1a1a1a" stroke-width="0.1">6.9</text>
<line x1="116.00" y1="242.60" x2="127.50" y2="242.60" stroke="#70ad52" stroke-width="1.8"/>
<text x="129.50" y="245.50" font-size="6.45" textLength="43.10" lengthAdjust="spacingAndGlyphs" fill="#1a1a1a" stroke="#1a1a1a" stroke-width="0.12">Non-responder</text>
<text x="187.93" y="245.50" font-size="6.4" textLength="23.13" lengthAdjust="spacingAndGlyphs" fill="#1a1a1a" stroke="#1a1a1a" stroke-width="0.1">258/291</text>
<text x="232.85" y="245.50" font-size="6.4" textLength="8.90" lengthAdjust="spacingAndGlyphs" fill="#1a1a1a" stroke="#1a1a1a" stroke-width="0.1">4.6</text>
<polyline points="43.30,215.60 43.80,222.00 44.50,230.00 45.70,242.00 47.00,254.80 48.20,266.00 49.40,276.30 50.20,283.00 51.10,289.00 52.40,293.30 53.60,295.50 55.50,297.60 57.40,299.20 61.00,301.80 65.10,303.80 70.00,305.50 74.80,306.80 84.40,308.30 96.00,310.00 112.00,310.80 130.80,310.80 131.50,311.90 185.80,311.90" fill="none" stroke="#70ad52" stroke-width="1.6" stroke-linejoin="round"/>
<polyline points="43.00,214.50 45.50,225.50 47.00,231.00 48.60,239.90 49.90,249.80 50.60,259.80 51.60,269.70 53.60,274.30 56.90,276.30 59.40,278.80 61.80,282.60 64.30,286.20 69.80,287.20 76.70,288.60 82.00,289.60 90.20,290.60 133.70,290.80 134.50,300.40 140.40,300.40 141.00,304.60 171.40,304.60" fill="none" stroke="#9e1a3c" stroke-width="1.6" stroke-linejoin="round"/>
<polyline points="43.30,215.80 44.60,215.80 44.60,226.60 50.20,226.60 50.20,233.80 50.80,233.80 50.80,254.30 56.40,254.30 56.40,261.60 60.30,261.60 60.30,269.20 68.50,269.20 68.50,279.60 244.60,279.60" fill="none" stroke="#2e365e" stroke-width="1.6" stroke-linejoin="round"/>
<rect x="70.23" y="276.30" width="1.35" height="3.3" fill="#1a1a1a"/>
<rect x="72.12" y="276.30" width="1.35" height="3.3" fill="#1a1a1a"/>
<rect x="84.12" y="276.30" width="1.35" height="3.3" fill="#1a1a1a"/>
<rect x="86.03" y="276.30" width="1.35" height="3.3" fill="#1a1a1a"/>
<rect x="243.32" y="276.30" width="1.35" height="3.3" fill="#1a1a1a"/>
<rect x="77.92" y="285.66" width="1.35" height="3.3" fill="#1a1a1a"/>
<rect x="79.83" y="286.02" width="1.35" height="3.3" fill="#1a1a1a"/>
<rect x="100.83" y="287.35" width="1.35" height="3.3" fill="#1a1a1a"/>
<rect x="102.23" y="287.36" width="1.35" height="3.3" fill="#1a1a1a"/>
<rect x="104.12" y="287.37" width="1.35" height="3.3" fill="#1a1a1a"/>
<rect x="116.23" y="287.42" width="1.35" height="3.3" fill="#1a1a1a"/>
<rect x="128.12" y="287.48" width="1.35" height="3.3" fill="#1a1a1a"/>
<rect x="130.12" y="287.49" width="1.35" height="3.3" fill="#1a1a1a"/>
<rect x="160.52" y="301.30" width="1.35" height="3.3" fill="#1a1a1a"/>
<rect x="161.62" y="301.30" width="1.35" height="3.3" fill="#1a1a1a"/>
<rect x="168.12" y="301.30" width="1.35" height="3.3" fill="#1a1a1a"/>
<rect x="169.72" y="301.30" width="1.35" height="3.3" fill="#1a1a1a"/>
<rect x="55.83" y="295.14" width="1.35" height="3.3" fill="#1a1a1a"/>
<rect x="63.53" y="300.06" width="1.35" height="3.3" fill="#1a1a1a"/>
<rect x="74.12" y="303.50" width="1.35" height="3.3" fill="#1a1a1a"/>
<rect x="83.73" y="305.00" width="1.35" height="3.3" fill="#1a1a1a"/>
<rect x="84.92" y="305.18" width="1.35" height="3.3" fill="#1a1a1a"/>
<rect x="91.42" y="306.13" width="1.35" height="3.3" fill="#1a1a1a"/>
<rect x="92.62" y="306.30" width="1.35" height="3.3" fill="#1a1a1a"/>
<rect x="97.23" y="306.80" width="1.35" height="3.3" fill="#1a1a1a"/>
<rect x="101.23" y="307.00" width="1.35" height="3.3" fill="#1a1a1a"/>
<rect x="112.83" y="307.50" width="1.35" height="3.3" fill="#1a1a1a"/>
<rect x="114.73" y="307.50" width="1.35" height="3.3" fill="#1a1a1a"/>
<rect x="116.23" y="307.50" width="1.35" height="3.3" fill="#1a1a1a"/>
<rect x="118.53" y="307.50" width="1.35" height="3.3" fill="#1a1a1a"/>
<rect x="122.42" y="307.50" width="1.35" height="3.3" fill="#1a1a1a"/>
<rect x="127.23" y="307.50" width="1.35" height="3.3" fill="#1a1a1a"/>
<rect x="131.22" y="308.60" width="1.35" height="3.3" fill="#1a1a1a"/>
<rect x="138.72" y="308.60" width="1.35" height="3.3" fill="#1a1a1a"/>
<rect x="140.62" y="308.60" width="1.35" height="3.3" fill="#1a1a1a"/>
<rect x="144.52" y="308.60" width="1.35" height="3.3" fill="#1a1a1a"/>
<rect x="158.92" y="308.60" width="1.35" height="3.3" fill="#1a1a1a"/>
<rect x="160.52" y="308.60" width="1.35" height="3.3" fill="#1a1a1a"/>
<rect x="170.52" y="308.60" width="1.35" height="3.3" fill="#1a1a1a"/>
<rect x="184.72" y="308.60" width="1.35" height="3.3" fill="#1a1a1a"/>
<text x="267.75" y="197.30" font-size="11.8" font-weight="bold" textLength="8.52" lengthAdjust="spacingAndGlyphs" fill="#1a1a1a">D</text>
<line x1="300.50" y1="211.00" x2="300.50" y2="330.10" stroke="#1a1a1a" stroke-width="1.15"/>
<line x1="297.10" y1="215.50" x2="300.50" y2="215.50" stroke="#1a1a1a" stroke-width="1.1"/>
<text x="285.58" y="217.15" font-size="6.2" textLength="8.62" lengthAdjust="spacingAndGlyphs" fill="#1a1a1a" stroke="#1a1a1a" stroke-width="0.12">1.0</text>
<line x1="297.10" y1="225.50" x2="300.50" y2="225.50" stroke="#1a1a1a" stroke-width="1.1"/>
<text x="285.58" y="227.83" font-size="6.2" textLength="8.62" lengthAdjust="spacingAndGlyphs" fill="#1a1a1a" stroke="#1a1a1a" stroke-width="0.12">0.9</text>
<line x1="297.10" y1="236.50" x2="300.50" y2="236.50" stroke="#1a1a1a" stroke-width="1.1"/>
<text x="285.58" y="238.51" font-size="6.2" textLength="8.62" lengthAdjust="spacingAndGlyphs" fill="#1a1a1a" stroke="#1a1a1a" stroke-width="0.12">0.8</text>
<line x1="297.10" y1="247.50" x2="300.50" y2="247.50" stroke="#1a1a1a" stroke-width="1.1"/>
<text x="285.58" y="249.19" font-size="6.2" textLength="8.62" lengthAdjust="spacingAndGlyphs" fill="#1a1a1a" stroke="#1a1a1a" stroke-width="0.12">0.7</text>
<line x1="297.10" y1="257.50" x2="300.50" y2="257.50" stroke="#1a1a1a" stroke-width="1.1"/>
<text x="285.58" y="259.87" font-size="6.2" textLength="8.62" lengthAdjust="spacingAndGlyphs" fill="#1a1a1a" stroke="#1a1a1a" stroke-width="0.12">0.6</text>
<line x1="297.10" y1="268.50" x2="300.50" y2="268.50" stroke="#1a1a1a" stroke-width="1.1"/>
<text x="285.58" y="270.55" font-size="6.2" textLength="8.62" lengthAdjust="spacingAndGlyphs" fill="#1a1a1a" stroke="#1a1a1a" stroke-width="0.12">0.5</text>
<line x1="297.10" y1="279.50" x2="300.50" y2="279.50" stroke="#1a1a1a" stroke-width="1.1"/>
<text x="285.58" y="281.23" font-size="6.2" textLength="8.62" lengthAdjust="spacingAndGlyphs" fill="#1a1a1a" stroke="#1a1a1a" stroke-width="0.12">0.4</text>
<line x1="297.10" y1="289.50" x2="300.50" y2="289.50" stroke="#1a1a1a" stroke-width="1.1"/>
<text x="285.58" y="291.91" font-size="6.2" textLength="8.62" lengthAdjust="spacingAndGlyphs" fill="#1a1a1a" stroke="#1a1a1a" stroke-width="0.12">0.3</text>
<line x1="297.10" y1="300.50" x2="300.50" y2="300.50" stroke="#1a1a1a" stroke-width="1.1"/>
<text x="285.58" y="302.59" font-size="6.2" textLength="8.62" lengthAdjust="spacingAndGlyphs" fill="#1a1a1a" stroke="#1a1a1a" stroke-width="0.12">0.2</text>
<line x1="297.10" y1="311.50" x2="300.50" y2="311.50" stroke="#1a1a1a" stroke-width="1.1"/>
<text x="285.58" y="313.27" font-size="6.2" textLength="8.62" lengthAdjust="spacingAndGlyphs" fill="#1a1a1a" stroke="#1a1a1a" stroke-width="0.12">0.1</text>
<line x1="297.10" y1="321.50" x2="300.50" y2="321.50" stroke="#1a1a1a" stroke-width="1.1"/>
<text x="285.58" y="323.95" font-size="6.2" textLength="8.62" lengthAdjust="spacingAndGlyphs" fill="#1a1a1a" stroke="#1a1a1a" stroke-width="0.12">0.0</text>
<line x1="299.90" y1="329.50" x2="510.40" y2="329.50" stroke="#1a1a1a" stroke-width="1.2"/>
<line x1="301.50" y1="329.50" x2="301.50" y2="332.60" stroke="#1a1a1a" stroke-width="1.1"/>
<text x="299.58" y="341.40" font-size="6.2" textLength="3.45" lengthAdjust="spacingAndGlyphs" fill="#1a1a1a" stroke="#1a1a1a" stroke-width="0.12">0</text>
<line x1="324.50" y1="329.50" x2="324.50" y2="332.60" stroke="#1a1a1a" stroke-width="1.1"/>
<text x="320.81" y="341.40" font-size="6.2" textLength="6.90" lengthAdjust="spacingAndGlyphs" fill="#1a1a1a" stroke="#1a1a1a" stroke-width="0.12">20</text>
<line x1="347.50" y1="329.50" x2="347.50" y2="332.60" stroke="#1a1a1a" stroke-width="1.1"/>
<text x="343.76" y="341.40" font-size="6.2" textLength="6.90" lengthAdjust="spacingAndGlyphs" fill="#1a1a1a" stroke="#1a1a1a" stroke-width="0.12">40</text>
<line x1="370.50" y1="329.50" x2="370.50" y2="332.60" stroke="#1a1a1a" stroke-width="1.1"/>
<text x="366.72" y="341.40" font-size="6.2" textLength="6.90" lengthAdjust="spacingAndGlyphs" fill="#1a1a1a" stroke="#1a1a1a" stroke-width="0.12">60</text>
<line x1="393.50" y1="329.50" x2="393.50" y2="332.60" stroke="#1a1a1a" stroke-width="1.1"/>
<text x="389.67" y="341.40" font-size="6.2" textLength="6.90" lengthAdjust="spacingAndGlyphs" fill="#1a1a1a" stroke="#1a1a1a" stroke-width="0.12">80</text>
<line x1="416.50" y1="329.50" x2="416.50" y2="332.60" stroke="#1a1a1a" stroke-width="1.1"/>
<text x="410.91" y="341.40" font-size="6.2" textLength="10.34" lengthAdjust="spacingAndGlyphs" fill="#1a1a1a" stroke="#1a1a1a" stroke-width="0.12">100</text>
<line x1="439.50" y1="329.50" x2="439.50" y2="332.60" stroke="#1a1a1a" stroke-width="1.1"/>
<text x="433.86" y="341.40" font-size="6.2" textLength="10.34" lengthAdjust="spacingAndGlyphs" fill="#1a1a1a" stroke="#1a1a1a" stroke-width="0.12">120</text>
<line x1="461.50" y1="329.50" x2="461.50" y2="332.60" stroke="#1a1a1a" stroke-width="1.1"/>
<text x="456.82" y="341.40" font-size="6.2" textLength="10.34" lengthAdjust="spacingAndGlyphs" fill="#1a1a1a" stroke="#1a1a1a" stroke-width="0.12">140</text>
<line x1="484.50" y1="329.50" x2="484.50" y2="332.60" stroke="#1a1a1a" stroke-width="1.1"/>
<text x="479.77" y="341.40" font-size="6.2" textLength="10.34" lengthAdjust="spacingAndGlyphs" fill="#1a1a1a" stroke="#1a1a1a" stroke-width="0.12">160</text>
<line x1="507.50" y1="329.50" x2="507.50" y2="332.60" stroke="#1a1a1a" stroke-width="1.1"/>
<text x="502.73" y="341.40" font-size="6.2" textLength="10.34" lengthAdjust="spacingAndGlyphs" fill="#1a1a1a" stroke="#1a1a1a" stroke-width="0.12">180</text>
<text x="242.80" y="270.60" font-size="8.0" textLength="73.60" lengthAdjust="spacingAndGlyphs" fill="#1a1a1a" stroke="#1a1a1a" stroke-width="0.18" transform="rotate(-90 279.60 270.60)">Event-free probability</text>
<text x="322.00" y="353.70" font-size="9.3" textLength="165.30" lengthAdjust="spacingAndGlyphs" fill="#1a1a1a" stroke="#1a1a1a" stroke-width="0.3">Months from commencement of salvage therapy</text>
<text x="412.60" y="218.00" font-size="6.4" font-weight="bold" textLength="17.40" lengthAdjust="spacingAndGlyphs" fill="#1a1a1a" stroke="#1a1a1a" stroke-width="0.12">ASCT</text>
<text x="443.45" y="216.30" font-size="6.4" font-weight="bold" textLength="27.10" lengthAdjust="spacingAndGlyphs" fill="#1a1a1a" stroke="#1a1a1a" stroke-width="0.12">Events/N</text>
<text x="483.90" y="208.50" font-size="6.4" font-weight="bold" textLength="22.00" lengthAdjust="spacingAndGlyphs" fill="#1a1a1a" stroke="#1a1a1a" stroke-width="0.12">Median</text>
<text x="481.05" y="216.40" font-size="6.4" font-weight="bold" textLength="27.70" lengthAdjust="spacingAndGlyphs" fill="#1a1a1a" stroke="#1a1a1a" stroke-width="0.12">(Months)</text>
<line x1="403.20" y1="220.60" x2="510.50" y2="220.60" stroke="#1a1a1a" stroke-width="1.2"/>
<line x1="403.40" y1="226.40" x2="414.20" y2="226.40" stroke="#2e365e" stroke-width="1.8"/>
<text x="415.40" y="229.30" font-size="6.45" textLength="10.52" lengthAdjust="spacingAndGlyphs" fill="#1a1a1a" stroke="#1a1a1a" stroke-width="0.12">Yes</text>
<text x="445.80" y="229.30" font-size="6.4" textLength="22.20" lengthAdjust="spacingAndGlyphs" fill="#1a1a1a" stroke="#1a1a1a" stroke-width="0.1">123/180</text>
<text x="488.57" y="229.30" font-size="6.4" textLength="12.46" lengthAdjust="spacingAndGlyphs" fill="#1a1a1a" stroke="#1a1a1a" stroke-width="0.1">14.4</text>
<line x1="403.40" y1="233.30" x2="414.20" y2="233.30" stroke="#9e1a3c" stroke-width="1.8"/>
<text x="415.40" y="236.20" font-size="6.45" textLength="8.25" lengthAdjust="spacingAndGlyphs" fill="#1a1a1a" stroke="#1a1a1a" stroke-width="0.12">No</text>
<text x="445.80" y="236.20" font-size="6.4" textLength="22.20" lengthAdjust="spacingAndGlyphs" fill="#1a1a1a" stroke="#1a1a1a" stroke-width="0.1">382/423</text>
<text x="490.35" y="236.20" font-size="6.4" textLength="8.90" lengthAdjust="spacingAndGlyphs" fill="#1a1a1a" stroke="#1a1a1a" stroke-width="0.1">5.1</text>
<polyline points="301.00,213.80 302.30,218.00 303.50,223.00 304.90,228.50 306.30,235.40 307.60,242.30 309.00,249.20 310.40,253.30 311.80,257.50 313.20,261.50 315.20,266.10 318.20,269.10 320.50,272.90 322.70,275.20 325.80,278.20 330.00,281.00 336.20,283.30 346.90,284.20 348.50,286.40 356.20,287.40 357.70,288.50 383.80,288.50 385.40,290.40 387.70,291.60 389.20,294.70 394.60,294.70 396.20,298.00 501.40,298.00" fill="none" stroke="#2e365e" stroke-width="1.6" stroke-linejoin="round"/>
<polyline points="301.00,213.80 302.10,220.30 303.20,228.50 304.20,239.50 305.20,250.60 306.10,260.00 306.80,268.00 307.60,275.20 308.30,280.50 309.10,285.80 310.20,290.50 311.40,294.80 312.50,297.80 313.60,300.20 315.00,302.20 316.70,303.90 318.80,306.00 321.20,307.70 325.80,309.20 330.00,310.00 341.30,310.80 357.80,312.00 370.00,312.50 390.00,312.70 391.00,313.60 456.20,313.60" fill="none" stroke="#9e1a3c" stroke-width="1.6" stroke-linejoin="round"/>
<rect x="331.63" y="278.56" width="1.35" height="3.3" fill="#1a1a1a"/>
<rect x="337.79" y="280.19" width="1.35" height="3.3" fill="#1a1a1a"/>
<rect x="339.32" y="280.32" width="1.35" height="3.3" fill="#1a1a1a"/>
<rect x="340.86" y="280.45" width="1.35" height="3.3" fill="#1a1a1a"/>
<rect x="343.17" y="280.64" width="1.35" height="3.3" fill="#1a1a1a"/>
<rect x="346.25" y="280.93" width="1.35" height="3.3" fill="#1a1a1a"/>
<rect x="356.25" y="284.63" width="1.35" height="3.3" fill="#1a1a1a"/>
<rect x="357.02" y="285.19" width="1.35" height="3.3" fill="#1a1a1a"/>
<rect x="361.63" y="285.20" width="1.35" height="3.3" fill="#1a1a1a"/>
<rect x="363.17" y="285.20" width="1.35" height="3.3" fill="#1a1a1a"/>
<rect x="367.02" y="285.20" width="1.35" height="3.3" fill="#1a1a1a"/>
<rect x="368.56" y="285.20" width="1.35" height="3.3" fill="#1a1a1a"/>
<rect x="370.09" y="285.20" width="1.35" height="3.3" fill="#1a1a1a"/>
<rect x="371.63" y="285.20" width="1.35" height="3.3" fill="#1a1a1a"/>
<rect x="373.17" y="285.20" width="1.35" height="3.3" fill="#1a1a1a"/>
<rect x="375.48" y="285.20" width="1.35" height="3.3" fill="#1a1a1a"/>
<rect x="377.02" y="285.20" width="1.35" height="3.3" fill="#1a1a1a"/>
<rect x="378.56" y="285.20" width="1.35" height="3.3" fill="#1a1a1a"/>
<rect x="383.17" y="285.25" width="1.35" height="3.3" fill="#1a1a1a"/>
<rect x="385.48" y="287.49" width="1.35" height="3.3" fill="#1a1a1a"/>
<rect x="393.17" y="291.40" width="1.35" height="3.3" fill="#1a1a1a"/>
<rect x="400.86" y="294.70" width="1.35" height="3.3" fill="#1a1a1a"/>
<rect x="311.82" y="256.20" width="1.35" height="3.3" fill="#1a1a1a"/>
<rect x="313.52" y="260.50" width="1.35" height="3.3" fill="#1a1a1a"/>
<rect x="315.32" y="263.60" width="1.35" height="3.3" fill="#1a1a1a"/>
<rect x="317.12" y="265.40" width="1.35" height="3.3" fill="#1a1a1a"/>
<rect x="318.82" y="267.95" width="1.35" height="3.3" fill="#1a1a1a"/>
<rect x="320.62" y="270.44" width="1.35" height="3.3" fill="#1a1a1a"/>
<rect x="322.32" y="272.19" width="1.35" height="3.3" fill="#1a1a1a"/>
<rect x="323.93" y="273.74" width="1.35" height="3.3" fill="#1a1a1a"/>
<rect x="325.62" y="275.23" width="1.35" height="3.3" fill="#1a1a1a"/>
<rect x="327.32" y="276.37" width="1.35" height="3.3" fill="#1a1a1a"/>
<rect x="393.07" y="291.40" width="1.35" height="3.3" fill="#1a1a1a"/>
<rect x="400.57" y="294.70" width="1.35" height="3.3" fill="#1a1a1a"/>
<rect x="413.07" y="294.70" width="1.35" height="3.3" fill="#1a1a1a"/>
<rect x="416.82" y="294.70" width="1.35" height="3.3" fill="#1a1a1a"/>
<rect x="424.82" y="294.70" width="1.35" height="3.3" fill="#1a1a1a"/>
<rect x="500.32" y="294.70" width="1.35" height="3.3" fill="#1a1a1a"/>
<rect x="315.00" y="299.58" width="1.35" height="3.3" fill="#1a1a1a"/>
<rect x="324.08" y="305.56" width="1.35" height="3.3" fill="#1a1a1a"/>
<rect x="329.03" y="306.64" width="1.35" height="3.3" fill="#1a1a1a"/>
<rect x="337.28" y="307.26" width="1.35" height="3.3" fill="#1a1a1a"/>
<rect x="338.93" y="307.38" width="1.35" height="3.3" fill="#1a1a1a"/>
<rect x="340.58" y="307.50" width="1.35" height="3.3" fill="#1a1a1a"/>
<rect x="342.23" y="307.62" width="1.35" height="3.3" fill="#1a1a1a"/>
<rect x="343.88" y="307.74" width="1.35" height="3.3" fill="#1a1a1a"/>
<rect x="357.08" y="308.70" width="1.35" height="3.3" fill="#1a1a1a"/>
<rect x="360.38" y="308.83" width="1.35" height="3.3" fill="#1a1a1a"/>
<rect x="366.98" y="309.10" width="1.35" height="3.3" fill="#1a1a1a"/>
<rect x="360.57" y="308.84" width="1.35" height="3.3" fill="#1a1a1a"/>
<rect x="361.82" y="308.89" width="1.35" height="3.3" fill="#1a1a1a"/>
<rect x="368.07" y="309.15" width="1.35" height="3.3" fill="#1a1a1a"/>
<rect x="369.32" y="309.20" width="1.35" height="3.3" fill="#1a1a1a"/>
<rect x="374.32" y="309.25" width="1.35" height="3.3" fill="#1a1a1a"/>
<rect x="375.57" y="309.26" width="1.35" height="3.3" fill="#1a1a1a"/>
<rect x="388.82" y="309.39" width="1.35" height="3.3" fill="#1a1a1a"/>
<rect x="395.57" y="310.30" width="1.35" height="3.3" fill="#1a1a1a"/>
<rect x="398.07" y="310.30" width="1.35" height="3.3" fill="#1a1a1a"/>
<rect x="400.57" y="310.30" width="1.35" height="3.3" fill="#1a1a1a"/>
<rect x="404.32" y="310.30" width="1.35" height="3.3" fill="#1a1a1a"/>
<rect x="405.57" y="310.30" width="1.35" height="3.3" fill="#1a1a1a"/>
<rect x="411.82" y="310.30" width="1.35" height="3.3" fill="#1a1a1a"/>
<rect x="419.32" y="310.30" width="1.35" height="3.3" fill="#1a1a1a"/>
<rect x="429.32" y="310.30" width="1.35" height="3.3" fill="#1a1a1a"/>
<rect x="441.82" y="310.30" width="1.35" height="3.3" fill="#1a1a1a"/>
<rect x="444.32" y="310.30" width="1.35" height="3.3" fill="#1a1a1a"/>
<rect x="455.57" y="310.30" width="1.35" height="3.3" fill="#1a1a1a"/>
<rect x="0.5" y="0.5" width="519" height="362" fill="none" stroke="#000" stroke-width="1"/>
<rect x="1.5" y="1.5" width="517" height="360" fill="none" stroke="#888" stroke-width="1"/>
</svg>
</body></html>
